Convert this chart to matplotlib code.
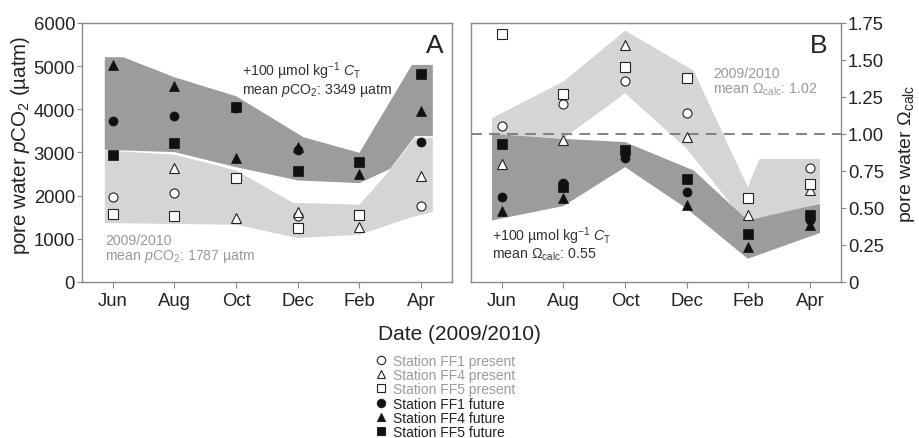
import numpy as np
import matplotlib
matplotlib.use("Agg")
import matplotlib.pyplot as plt
from matplotlib.lines import Line2D

plt.rcParams['font.family'] = ['Liberation Sans', 'DejaVu Sans']
plt.rcParams['mathtext.fontset'] = 'custom'
plt.rcParams['mathtext.rm'] = 'Liberation Sans'
plt.rcParams['mathtext.it'] = 'Liberation Sans:italic'

months = ['Jun', 'Aug', 'Oct', 'Dec', 'Feb', 'Apr']
nan = np.nan

# panel A: pore water pCO2 (uatm)
pco2_present = {
    'FF1': [1967, 2059, nan, 1527, nan, 1758],
    'FF4': [nan, 2645, 1488, 1620, 1265, 2445],
    'FF5': [1566, 1527, 2414, 1249, 1542, nan],
}
pco2_future = {
    'FF1': [3733, 3841, 4020, 3046, nan, 3239],
    'FF4': [5028, 4535, 2877, 3120, 2506, 3972],
    'FF5': [2931, 3216, 4049, 2560, 2784, 4820],
}
# shaded ranges (outline vertices, x in month index units)
pco2_fut_top_x = [-0.13, 0.17, 1, 2, 3.09, 4, 4.85, 5.19]
pco2_fut_top_y = [5206, 5206, 4743, 4303, 3355, 2992, 5028, 5028]
pco2_fut_bot_x = [5.19, 4.9, 4.5, 4, 3, 2, 1, -0.13]
pco2_fut_bot_y = [3378, 3378, 2622, 2290, 2352, 2660, 3008, 3062]
pco2_pre_top_x = [-0.13, 1, 2, 2.92, 4, 4.47, 4.9, 5.19]
pco2_pre_top_y = [3046, 2950, 2583, 1835, 1790, 2548, 3340, 3340]
pco2_pre_bot_x = [5.19, 4.85, 4, 3, 2, -0.13]
pco2_pre_bot_y = [1620, 1504, 1095, 1018, 1326, 1365]

# panel B: pore water Omega calc
om_present = {
    'FF1': [1.057, 1.203, 1.356, 1.145, nan, 0.772],
    'FF4': [0.794, 0.956, 1.602, 0.978, 0.454, 0.623],
    'FF5': [1.676, 1.269, 1.453, 1.381, 0.569, 0.664],
}
om_future = {
    'FF1': [0.576, 0.668, 0.837, 0.607, nan, 0.416],
    'FF4': [0.479, 0.569, nan, 0.517, 0.236, 0.382],
    'FF5': [0.933, 0.641, 0.889, 0.697, 0.324, 0.450],
}
om_pre_top_x = [-0.16, 1, 2, 3.11, 3.99, 4.18, 5.16]
om_pre_top_y = [1.107, 1.354, 1.698, 1.428, 0.641, 0.832, 0.832]
om_pre_bot_x = [5.16, 3.99, 3, 2, 1, -0.16]
om_pre_bot_y = [0.535, 0.382, 0.90, 1.275, 0.97, 1.0]
om_fut_top_x = [-0.16, 1, 2, 3.11, 3.99, 5.16]
om_fut_top_y = [1.001, 0.967, 0.945, 0.754, 0.416, 0.529]
om_fut_bot_x = [5.16, 3.99, 3, 2, 1, -0.16]
om_fut_bot_y = [0.331, 0.157, 0.495, 0.776, 0.513, 0.416]

markers = {'FF1': 'o', 'FF4': '^', 'FF5': 's'}
dark = '#9c9c9e'
light = '#d5d5d7'
txt_grey = '#9a9a9a'
txt_dark = '#333333'
spine_c = '#8a8a8a'

fig = plt.figure(figsize=(9.19, 4.39), dpi=100)
axA = fig.add_axes([0.0892, 0.3554, 0.4026, 0.590])
axB = fig.add_axes([0.5125, 0.3554, 0.4026, 0.590])
x = np.arange(len(months))


def draw_panel(ax, present, future, fut_band, pre_band):
    for (tx, ty, bx, by), col in [(pre_band, light), (fut_band, dark)]:
        ax.fill(list(tx) + list(bx), list(ty) + list(by), color=col, lw=0, zorder=1)
    for st, vals in present.items():
        ax.plot(x, vals, ls='none', marker=markers[st], ms=6.5, mfc='white',
                mec='#222222', mew=0.8, zorder=3)
    for st, vals in future.items():
        ax.plot(x, vals, ls='none', marker=markers[st], ms=6.5, mfc='#111111',
                mec='#111111', mew=0.5, zorder=4)
    ax.set_xlim(-0.5, 5.5)
    ax.set_xticks(x)
    ax.set_xticklabels(months)
    for s in ax.spines.values():
        s.set_color(spine_c)
        s.set_linewidth(1.0)
    ax.tick_params(direction='out', length=4, color=spine_c, labelsize=13.3,
                   labelcolor='#222222')
    ax.tick_params(axis='y', length=3.5, pad=1.5)


note_kw = dict(fontsize=10.2, va='center', linespacing=1.0)

draw_panel(axA, pco2_present, pco2_future,
           (pco2_fut_top_x, pco2_fut_top_y, pco2_fut_bot_x, pco2_fut_bot_y),
           (pco2_pre_top_x, pco2_pre_top_y, pco2_pre_bot_x, pco2_pre_bot_y))
axA.set_ylim(0, 6000)
axA.set_yticks(range(0, 6001, 1000))
axA.set_ylabel('pore water $p$CO$_2$ (µatm)', fontsize=14.8, color='#222222')
axA.yaxis.set_label_coords(-0.136, 0.531)
axA.text(0.976, 0.96, 'A', transform=axA.transAxes, ha='right', va='top', fontsize=19, color='#222222')
axA.text(2.09, 4714, '+100 µmol kg$^{-1}$ $C_\\mathregular{T}$\nmean $p$CO$_2$: 3349 µatm',
         color=txt_dark, **note_kw)
axA.text(-0.13, 776, '2009/2010\nmean $p$CO$_2$: 1787 µatm', color=txt_grey, **note_kw)

draw_panel(axB, om_present, om_future,
           (om_fut_top_x, om_fut_top_y, om_fut_bot_x, om_fut_bot_y),
           (om_pre_top_x, om_pre_top_y, om_pre_bot_x, om_pre_bot_y))
axB.axhline(1.0, color='#7a7a7a', lw=1.3, ls=(0, (6, 4)), zorder=2)
axB.set_ylim(0, 1.75)
axB.set_yticks([0, 0.25, 0.5, 0.75, 1.0, 1.25, 1.5, 1.75])
axB.set_yticklabels(['0', '0.25', '0.50', '0.75', '1.00', '1.25', '1.50', '1.75'])
axB.yaxis.tick_right()
axB.yaxis.set_label_position('right')
axB.set_ylabel('pore water Ω$_\\mathregular{calc}$', fontsize=14, color='#222222')
axB.yaxis.set_label_coords(1.149, 0.5)
axB.text(0.963, 0.96, 'B', transform=axB.transAxes, ha='right', va='top', fontsize=19, color='#222222')
axB.text(3.43, 1.355, '2009/2010\nmean Ω$_\\mathregular{calc}$: 1.02', color=txt_grey, **note_kw)
axB.text(-0.16, 0.2635, '+100 µmol kg$^{-1}$ $C_\\mathregular{T}$\nmean Ω$_\\mathregular{calc}$: 0.55',
         color=txt_dark, **note_kw)

fig.text(0.5, 0.237, 'Date (2009/2010)', ha='center', va='center', fontsize=15, color='#222222')

handles = []
labels = []
for kind, mfc in [('present', 'white'), ('future', '#111111')]:
    for st in ['FF1', 'FF4', 'FF5']:
        handles.append(Line2D([], [], ls='none', marker=markers[st], ms=6,
                              mfc=mfc, mec='#222222', mew=0.8))
        labels.append(f'Station {st} {kind}')
fig.legend(handles, labels, loc='upper left', bbox_to_anchor=(0.408, 0.192),
           frameon=False, fontsize=10, handlelength=0.8, handletextpad=0.5,
           labelspacing=0.02, borderpad=0, borderaxespad=0,
           labelcolor=[txt_grey] * 3 + ['#222222'] * 3)

fig.savefig('out.png', dpi=100)
